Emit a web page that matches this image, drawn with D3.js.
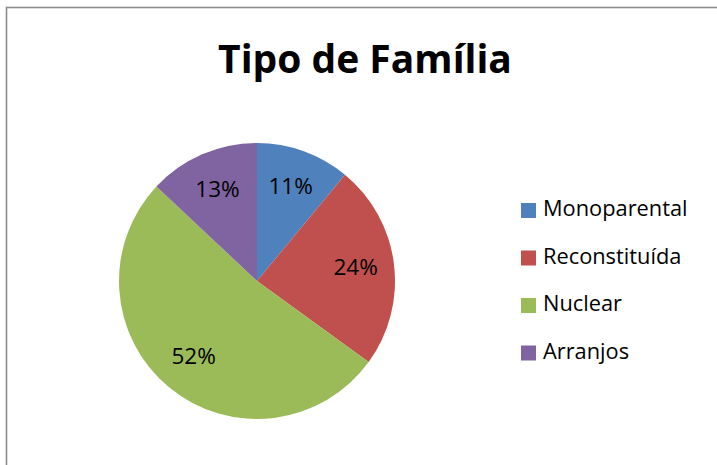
<!DOCTYPE html>
<html>
<head>
<meta charset="utf-8">
<script src="https://cdn.jsdelivr.net/npm/d3@7"></script>
<style>
  html, body { margin: 0; padding: 0; background: #fff; }
  svg { display: block; font-family: "Open Sans", "Noto Sans", sans-serif; }
</style>
</head>
<body>
<svg id="chart" width="717" height="465"></svg>
<script>
// Tipo de Família pie chart
const categories = ["Monoparental", "Reconstituída", "Nuclear", "Arranjos"];
const values = [11, 24, 52, 13];
const colors = ["#4F81BD", "#C0504D", "#9BBB59", "#8064A2"];

const width = 717;
const height = 465;

const svg = d3.select("#chart")
    .attr("width", width)
    .attr("height", height);

// chart frame (right and bottom edges are cut off in the picture)
svg.append("rect")
    .attr("x", 6.5)
    .attr("y", 7.5)
    .attr("width", 900)
    .attr("height", 700)
    .attr("fill", "none")
    .attr("stroke", "#8c8c8c")
    .attr("stroke-width", 1.6);

// title
svg.append("text")
    .attr("x", 365)
    .attr("y", 73)
    .attr("text-anchor", "middle")
    .style("font-size", "39px")
    .style("font-weight", "bold")
    .attr("fill", "#000")
    .text("Tipo de Família");

const data = categories.map((c, i) => ({ name: c, value: values[i], color: colors[i] }));

const cx = 257, cy = 281, radius = 138;

const pie = d3.pie()
    .value(d => d.value)
    .sort(null);

const arc = d3.arc()
    .innerRadius(0)
    .outerRadius(radius);

const labelArc = d3.arc()
    .innerRadius(radius * 0.72)
    .outerRadius(radius * 0.72);

const total = d3.sum(values);

const gPie = svg.append("g")
    .attr("transform", `translate(${cx},${cy})`);

const slices = gPie.selectAll("g.slice")
    .data(pie(data))
    .join("g")
    .attr("class", "slice");

slices.append("path")
    .attr("d", arc)
    .attr("fill", d => d.data.color);

slices.append("text")
    .attr("transform", d => `translate(${labelArc.centroid(d)})`)
    .attr("text-anchor", "middle")
    .attr("dy", "0.3em")
    .style("font-size", "22.5px")
    .attr("fill", "#000")
    .text(d => Math.round(d.data.value / total * 100) + "%");

// legend
const legendY = d3.scalePoint()
    .domain(categories)
    .range([210.5, 353])
    .padding(0);

const legend = svg.append("g")
    .selectAll("g.legend-item")
    .data(data)
    .join("g")
    .attr("class", "legend-item")
    .attr("transform", d => `translate(521,${legendY(d.name)})`);

legend.append("rect")
    .attr("x", 0)
    .attr("y", -7.5)
    .attr("width", 15)
    .attr("height", 15)
    .attr("fill", d => d.color);

legend.append("text")
    .attr("x", 22)
    .attr("y", 5.5)
    .style("font-size", "21.8px")
    .attr("fill", "#000")
    .text(d => d.name);
</script>
</body>
</html>
